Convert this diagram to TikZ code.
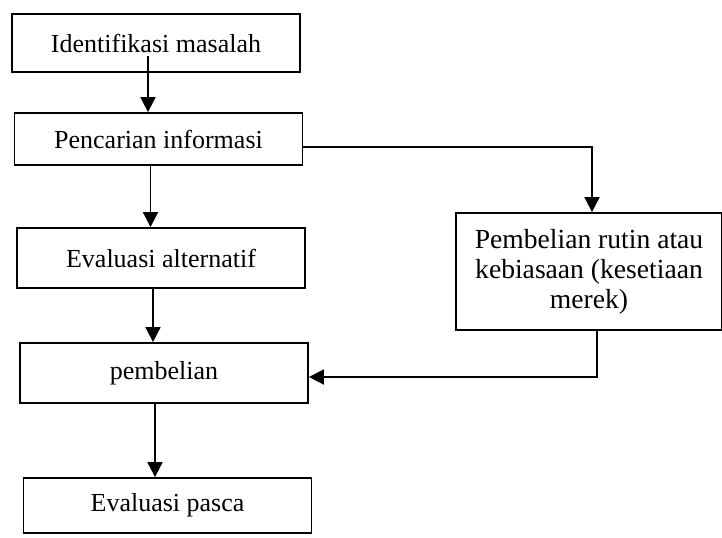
\documentclass[tikz,border=0pt]{standalone}
\usepackage{fontspec}
\setmainfont{Liberation Serif}
\usetikzlibrary{
    arrows.meta,  % For arrow tips
    positioning   % For relative placement
}

\begin{document}
\begin{tikzpicture}[
    x=0.5pt, y=-0.5pt, % One unit = one pixel, y pointing down
    >={Triangle[length=7.5pt,width=7.5pt]}, % Filled arrow tip
    stage/.style={draw, line width=0.9pt, minimum width=144pt, inner sep=0pt,
        align=center, font=\fontsize{13}{15}\selectfont}, % Style for stage boxes
    flow/.style={->, line width=0.9pt} % Style for connectors
]

    % Fix the page size
    \useasboundingbox (0,0) rectangle (722,537);

    % Main column of stages
    \node[stage, minimum height=29pt] (identifikasi) at (156,43) {Identifikasi masalah};
    \node[stage, minimum height=26pt] (pencarian) at (158.5,139) {Pencarian informasi};
    \node[stage, minimum height=30pt] (evaluasi) at (161,258) {Evaluasi alternatif};
    \node[stage, minimum height=30pt] (pembelian) at (164,373) {pembelian};
    \node[stage, minimum height=27.5pt] (pasca) at (167.5,505.5) {Evaluasi pasca};

    % Side stage (routine purchase)
    \node[stage, minimum width=133pt, minimum height=58.5pt,
        font=\fontsize{13.8}{15}\selectfont] (rutin) at (589,271.5)
        {Pembelian rutin atau\\kebiasaan (kesetiaan\\merek)};

    % Arrows down the main column
    \draw[flow] ([xshift=-4pt,yshift=8.5pt]identifikasi.south) -- ([xshift=-4pt]identifikasi.south |- pencarian.north);
    \draw[flow] ([xshift=-4pt]pencarian.south) -- ([xshift=-4pt]pencarian.south |- evaluasi.north);
    \draw[flow] ([xshift=-4pt]evaluasi.south) -- ([xshift=-4pt]evaluasi.south |- pembelian.north);
    \draw[flow] ([xshift=-4.5pt]pembelian.south) -- ([xshift=-4.5pt]pembelian.south |- pasca.north);

    % Arrows through the side stage
    \draw[flow] ([yshift=-4pt]pencarian.east) -| ([xshift=1.5pt]rutin.north);
    \draw[flow] ([xshift=4pt]rutin.south) |- ([yshift=-2pt]pembelian.east);

\end{tikzpicture}
\end{document}
